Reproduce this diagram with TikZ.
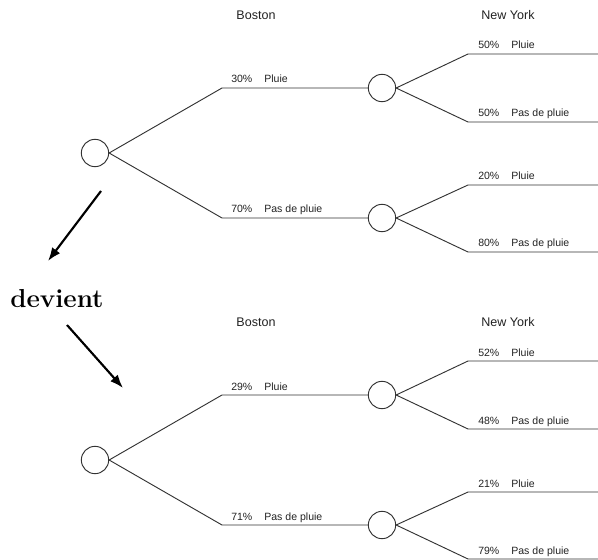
\documentclass[tikz,border=0pt]{standalone}
\usepackage{fontspec}
\usepackage{tikz}
\usetikzlibrary{arrows.meta}
\newfontfamily\arial{Liberation Sans}
\definecolor{Ink}{HTML}{222222}
\definecolor{Wire}{HTML}{333333}

\begin{document}
\begin{tikzpicture}[x=0.75pt,y=-0.75pt,
    chance/.style={circle,draw=Wire,line width=0.7pt,minimum size=20.5pt,inner sep=0pt,fill=white},
    branch/.style={Wire,line width=0.7pt},
    city/.style={font=\arial\fontsize{9.4}{11}\selectfont,text=Ink},
    prob/.style={anchor=base west,inner sep=0pt,font=\arial\fontsize{7.9}{9}\selectfont,text=Ink},
    pointer/.style={line width=1.6pt,-{Latex[length=10pt,width=7.5pt]}}]
  \useasboundingbox (0,0) rectangle (598,559);
  % the two trees, before and after
  \foreach \dy/\pa/\pb/\pc/\pd/\pe/\pf/\t in {0/30/70/50/50/20/80/a,307/29/71/52/48/21/79/b}{
    \node[city] (\t bos) at (256,15+\dy) {Boston};
    \node[city] (\t ny) at (508,15+\dy) {New York};
    \node[chance] (\t root) at (95,153+\dy) {};
    \node[chance] (\t wet) at (382,88+\dy) {};
    \node[chance] (\t dry) at (382,218+\dy) {};
    \coordinate (\t j1) at (222,88+\dy);
    \coordinate (\t j2) at (222,218+\dy);
    \coordinate (\t k1) at (468,54+\dy);
    \coordinate (\t k2) at (468,122+\dy);
    \coordinate (\t k3) at (468,185+\dy);
    \coordinate (\t k4) at (468,252+\dy);
    \draw[branch] (\t root.east) -- (\t j1) -- (\t wet.west);
    \draw[branch] (\t root.east) -- (\t j2) -- (\t dry.west);
    \draw[branch] (\t wet.east) -- (\t k1) -- ++(130,0);
    \draw[branch] (\t wet.east) -- (\t k2) -- ++(130,0);
    \draw[branch] (\t dry.east) -- (\t k3) -- ++(130,0);
    \draw[branch] (\t dry.east) -- (\t k4) -- ++(130,0);
    \node[prob] at (231,83+\dy) {\pa\%\hspace{9pt}Pluie};
    \node[prob] at (231,213+\dy) {\pb\%\hspace{9pt}Pas de pluie};
    \node[prob] at (478,49+\dy) {\pc\%\hspace{9pt}Pluie};
    \node[prob] at (478,117+\dy) {\pd\%\hspace{9pt}Pas de pluie};
    \node[prob] at (478,180+\dy) {\pe\%\hspace{9pt}Pluie};
    \node[prob] at (478,247+\dy) {\pf\%\hspace{9pt}Pas de pluie};
  }
  % arrows around the word
  \node[anchor=base west,inner sep=0pt,font=\bfseries\fontsize{19.5}{23}\selectfont] (word) at (10,307) {devient};
  \coordinate (out tail) at (101,191);
  \coordinate (out tip) at (48,261);
  \coordinate (in tail) at (67,325);
  \coordinate (in tip) at (123,388);
  \draw[pointer] (out tail) -- (out tip);
  \draw[pointer] (in tail) -- (in tip);
\end{tikzpicture}
\end{document}
